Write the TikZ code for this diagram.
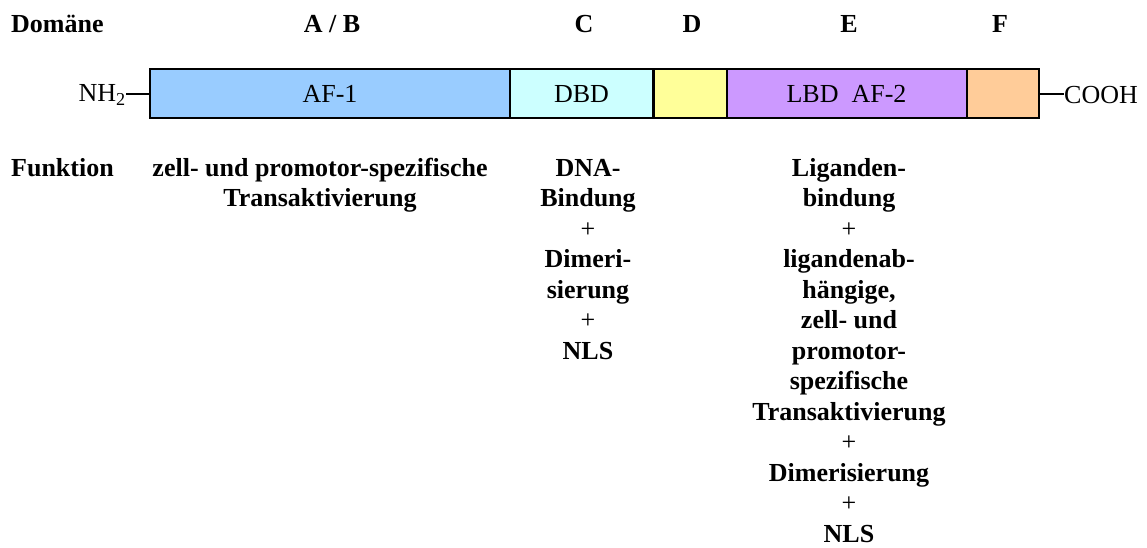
\documentclass[tikz,border=0pt]{standalone}
\usepackage{fontspec}
\setmainfont{Liberation Serif}
\definecolor{afone}{HTML}{99CCFF}
\definecolor{dbd}{HTML}{CCFFFF}
\definecolor{hinge}{HTML}{FFFF99}
\definecolor{lbd}{HTML}{CC99FF}
\definecolor{fdom}{HTML}{FFCC99}
\begin{document}
\begin{tikzpicture}[x=1pt,y=-1pt,
  dom/.style={draw=black,line width=2pt,minimum height=49pt,inner sep=0pt,
    font=\fontsize{26}{30.5}\selectfont},
  head/.style={font=\fontsize{26}{30.5}\selectfont\bfseries,inner sep=0pt,anchor=base},
  func/.style={font=\fontsize{26}{30.5}\selectfont\bfseries,inner sep=0pt,
    anchor=north,align=center},
  term/.style={font=\fontsize{26}{30.5}\selectfont,inner sep=0pt},
  link/.style={line width=2pt}]
\useasboundingbox (0,0) rectangle (1147,547);
% protein domains
\node[dom,fill=afone,minimum width=360pt] (ab) at (330,93.8) {AF-1};
\node[dom,fill=dbd,minimum width=143pt] (c) at (581.5,93.8) {DBD};
\node[dom,fill=hinge,minimum width=73pt] (d) at (690,93.8) {};
\node[dom,fill=lbd,minimum width=240pt] (e) at (846.5,93.8) {LBD\ \ AF-2};
\node[dom,fill=fdom,minimum width=72pt] (f) at (1002.5,93.8) {};
% termini
\node[term,anchor=east] (nh) at (126,95) {NH\textsubscript{2}};
\node[term,anchor=west] (co) at (1064,95) {COOH};
\draw[link] (nh.east) ++(0,-1.5) coordinate (nhl) -- (nhl -| ab.west);
\draw[link] (f.east) -- (f.east -| co.west);
% header row
\node[head,anchor=base west] (hd) at (11,32) {Domäne};
\node[head] (hab) at (332,32) {A / B};
\node[head] (hc) at (584,32) {C};
\node[head] (hdd) at (692,32) {D};
\node[head] (he) at (849,32) {E};
\node[head] (hf) at (1000,32) {F};
% function row: first baseline at 176, strut height 21.35
\node[head,anchor=base west] (fk) at (11,176) {Funktion};
\node[func] (fab) at (320,154.65) {\strut zell- und promotor-spezifische\\Transaktivierung};
\node[func] (fc) at (588,154.65) {\strut DNA-\\Bindung\\\mdseries+\\Dimeri-\\sierung\\\mdseries+\\NLS};
\node[func] (fe) at (849,154.65) {\strut Liganden-\\bindung\\\mdseries+\\ligandenab-\\hängige,\\zell- und\\promotor-\\spezifische\\Transaktivierung\\\mdseries+\\Dimerisierung\\\mdseries+\\NLS};
\end{tikzpicture}
\end{document}
